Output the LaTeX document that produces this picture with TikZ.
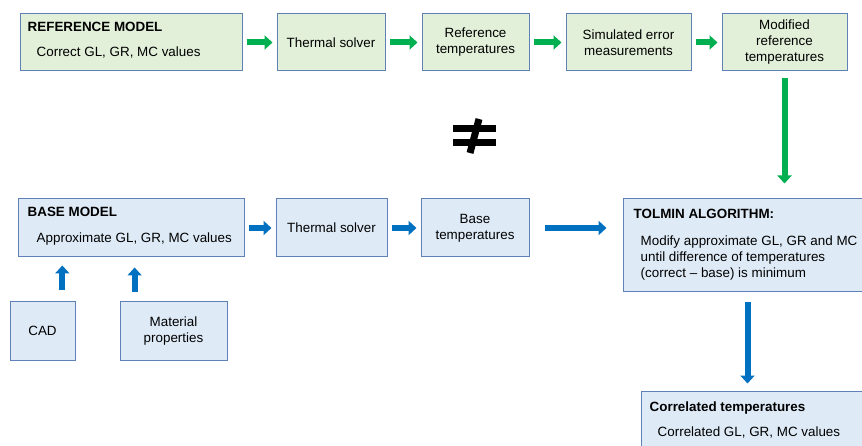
\documentclass[tikz,border=0pt]{standalone}
\usepackage{fontspec}
\setmainfont{Liberation Sans}
\usetikzlibrary{shapes,arrows.meta,positioning,calc}

\definecolor{refgreen}{RGB}{226,240,217}
\definecolor{baseblue}{RGB}{222,235,247}
\definecolor{boxline}{RGB}{96,128,184}
\definecolor{arrgreen}{RGB}{0,176,80}
\definecolor{arrblue}{RGB}{0,112,192}

\begin{document}
\begin{tikzpicture}[x=1pt, y=-1pt, node distance=35pt,
    font=\fontsize{13.4}{16}\selectfont,
    block/.style={rectangle, draw=boxline, line width=1pt, fill=refgreen, minimum height=57pt, text centered, align=center, inner sep=0pt},
    baseblock/.style={block, fill=baseblue},
    boxtext/.style={anchor=north west, align=left, inner sep=0pt},
    garrow/.style={-{Triangle[length=8pt,width=14pt]}, line width=6pt, draw=arrgreen, shorten <=4pt, shorten >=4pt},
    barrow/.style={garrow, draw=arrblue}]
  \useasboundingbox (0,0) rectangle (862,446);
  \clip (0,0) rectangle (862,446);
  % reference model chain
  \node[block, minimum width=222pt] (refmodel) at (131,42.5) {};
  \node[boxtext] (refmodeltxt) at ([shift={(8pt,-8pt)}]refmodel.north west) {\textbf{REFERENCE MODEL}\\[9pt]\hspace*{9pt}Correct GL, GR, MC values};
  \node[block, minimum width=108pt, right=34pt of refmodel] (solver1) {Thermal solver};
  \node[block, minimum width=107pt, right=36pt of solver1] (reftemp) {Reference\\temperatures};
  \node[block, minimum width=125pt, right=36pt of reftemp] (simerr) {Simulated error\\measurements};
  \node[block, minimum width=125pt, right=30pt of simerr] (modref) {Modified\\reference\\temperatures};

  % base model chain
  \node[baseblock, minimum width=226pt, minimum height=58pt] (basemodel) at (131,228) {};
  \node[boxtext] (basemodeltxt) at ([shift={(10pt,-8pt)}]basemodel.north west) {\textbf{BASE MODEL}\\[10pt]\hspace*{9pt}Approximate GL, GR, MC values};
  \node[baseblock, minimum width=111pt, minimum height=58pt, right=31pt of basemodel] (solver2) {Thermal solver};
  \node[baseblock, minimum width=108pt, minimum height=58pt, right=33pt of solver2] (basetemp) {Base\\temperatures};
  \node[baseblock, minimum width=65pt, minimum height=58pt] (cad) at (42.5,331) {CAD};
  \node[baseblock, minimum width=107pt, minimum height=58pt, right=44pt of cad] (material) {Material\\properties};

  % optimiser and result
  \node[baseblock, minimum width=249pt, minimum height=93pt] (tolmin) at (747.5,245.5) {};
  \node[boxtext] (tolmintxt) at ([shift={(11pt,-10pt)}]tolmin.north west) {\textbf{TOLMIN ALGORITHM:}\\[11pt]\hspace*{7pt}Modify approximate GL, GR and MC\\\hspace*{7pt}until difference of temperatures\\\hspace*{7pt}(correct \textendash{} base) is minimum};
  \node[baseblock, minimum width=239pt, minimum height=69pt] (correl) at (760.5,425.5) {};
  \node[boxtext] (correltxt) at ([shift={(9pt,-11pt)}]correl.north west) {\textbf{Correlated temperatures}\\[9pt]\hspace*{8pt}Correlated GL, GR, MC values};

  % not-equal sign
  \fill (453,125) rectangle (496,132);
  \fill (453,139) rectangle (496,146);
  \draw[line width=7pt] (479,119) -- (470,153);

  \coordinate (cadtop) at ($(cad.north west)!0.8!(cad.north east)$);
  \coordinate (mattop) at ($(material.north west)!0.14!(material.north east)$);

  \draw[garrow] (refmodel) -- (solver1);
  \draw[garrow] (solver1) -- (reftemp);
  \draw[garrow] (reftemp) -- (simerr);
  \draw[garrow] (simerr) -- (modref);
  \draw[garrow, shorten <=7pt, shorten >=15pt] (modref.south) -- (modref.south |- tolmin.north);
  \draw[barrow] (basemodel) -- (solver2);
  \draw[barrow] (solver2) -- (basetemp);
  \draw[barrow, shorten <=15pt, shorten >=16pt] (basetemp.east) -- (basetemp.east -| tolmin.west);
  \draw[barrow, shorten <=11pt, shorten >=8pt] (cadtop) -- (cadtop |- basemodel.south);
  \draw[barrow, shorten <=9pt, shorten >=10pt] (mattop) -- (mattop |- basemodel.south);
  \draw[barrow, shorten <=10pt, shorten >=7pt] (tolmin.south) -- (tolmin.south |- correl.north);
\end{tikzpicture}
\end{document}
